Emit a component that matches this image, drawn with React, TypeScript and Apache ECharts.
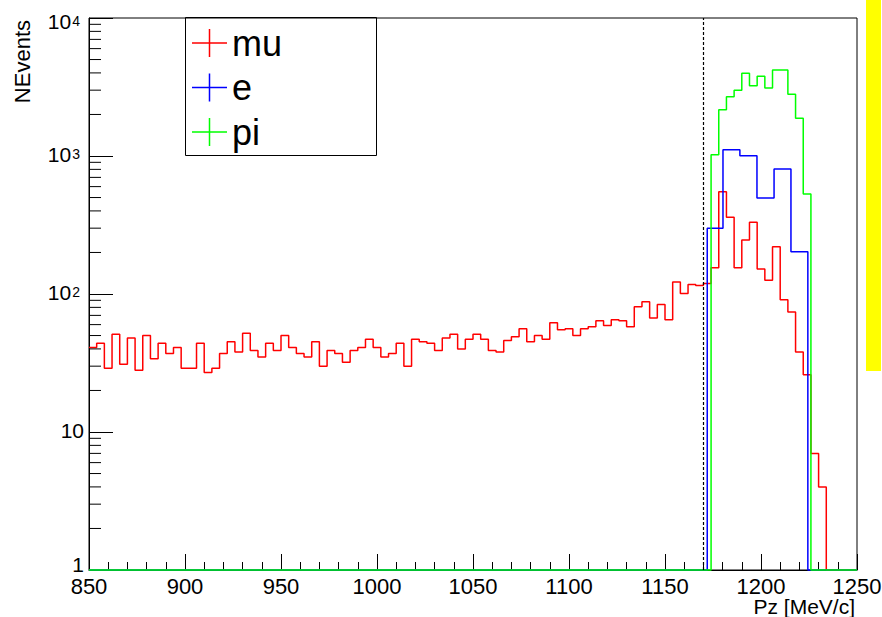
import React, { useEffect, useRef } from 'react';
import * as echarts from 'echarts';

// ---- data ----
const xMin = 850;
const xMax = 1250;
const binWidth = 4; // MeV, mu and pi histograms
const cutValue = 1170; // dashed vertical line

// mu: 100 bins of 4 MeV from 850 to 1250
const muCounts = [
  41, 44, 29, 51, 31, 48, 28, 50, 34, 44,
  37, 41, 29, 29, 44, 27, 29, 37, 45, 38,
  52, 39, 35, 44, 39, 50, 41, 37, 35, 45,
  30, 39, 37, 32, 39, 41, 47, 41, 35, 37,
  44, 30, 47, 45, 44, 39, 48, 51, 40, 47,
  51, 47, 39, 38, 46, 49, 56, 45, 50, 47,
  62, 55, 56, 50, 56, 58, 64, 59, 65, 64,
  58, 81, 88, 67, 84, 65, 122, 101, 117, 115,
  119, 155, 551, 360, 155, 246, 331, 152, 126, 220,
  91, 74, 38, 26, 7, 4, 0, 0, 0, 0,
];

// pi: same binning, non-empty bins start at bin 81 (1174 MeV)
const piFirstBin = 81;
const piCounts = [1022, 2166, 2690, 2993, 3975, 3231, 3781, 3111, 4200, 4200, 2800, 1876, 531];

// e: coarser bins
const eEdges = [850, 1172, 1180.2, 1189, 1197.9, 1206.8, 1215.6, 1224.4, 1250];
const eCounts = [0, 299, 1111, 1005, 496, 805, 202, 0];

const xTickInterval = 50;
const yMinorTicks = [
  2, 3, 4, 5, 6, 7, 8, 9,
  20, 30, 40, 50, 60, 70, 80, 90,
  200, 300, 400, 500, 600, 700, 800, 900,
  2000, 3000, 4000, 5000, 6000, 7000, 8000, 9000,
];

const seriesNames = ['mu', 'e', 'pi'];
const seriesColors = ['#ff0000', '#0000ff', '#00ff00'];

const FONT = '"Liberation Sans", Arial, Helvetica, sans-serif';

// ---- helpers ----
const yFloor = 1; // empty bins drawn on the bottom of the log axis

function histPoints(edges: number[], counts: number[]) {
  const pts: number[][] = counts.map((c, i) => [edges[i], Math.max(c, yFloor)]);
  pts.push([edges[edges.length - 1], Math.max(counts[counts.length - 1], yFloor)]);
  return pts;
}

function uniformEdges(n: number) {
  const e: number[] = [];
  for (let i = 0; i <= n; i++) e.push(xMin + i * binWidth);
  return e;
}

export default function App() {
  const ref = useRef<HTMLDivElement>(null);

  useEffect(() => {
    const chart = echarts.init(ref.current!, null, { renderer: 'svg' });

    const nBins = muCounts.length;
    const edges = uniformEdges(nBins);
    const piFull: number[] = new Array(nBins).fill(0);
    piCounts.forEach((c, i) => (piFull[piFirstBin + i] = c));

    const muData = histPoints(edges, muCounts);
    const piData = histPoints(edges, piFull);
    const eData = histPoints(eEdges, eCounts);

    const mkLine = (name: string, color: string, data: number[][], z: number, extra: any = {}) => ({
      name,
      type: 'line',
      step: 'end',
      data,
      symbol: 'none',
      showSymbol: false,
      clip: false,
      silent: true,
      z,
      lineStyle: { color, width: 1.5 },
      itemStyle: { color },
      ...extra,
    });

    const option: any = {
      animation: false,
      backgroundColor: '#ffffff',
      grid: {
        left: 89,
        top: 18,
        width: 768,
        height: 552,
        show: true,
        borderColor: '#000',
        borderWidth: 1,
        backgroundColor: 'transparent',
        outerBoundsMode: 'none',
        containLabel: false,
      },
      legend: {
        data: seriesNames,
        orient: 'vertical',
        left: 185,
        top: 18,
        padding: [5, 0, 0, 7],
        itemWidth: 35,
        itemHeight: 28,
        itemGap: 4.5,
        selectedMode: false,
        icon: 'path://M0 13.25H35V14.75H0Z M16.75 0H18.25V28H16.75Z',
        itemStyle: { borderWidth: 0 },
        textStyle: { fontSize: 36, fontFamily: FONT, color: '#000', lineHeight: 40 },
      },
      xAxis: {
        type: 'value',
        min: xMin,
        max: xMax,
        interval: xTickInterval,
        axisLine: { show: true, onZero: false, lineStyle: { color: '#000', width: 1 } },
        axisTick: { show: true, inside: true, length: 16, lineStyle: { color: '#000', width: 1 } },
        minorTick: { show: true, splitNumber: 5, length: 8, lineStyle: { color: '#000', width: 1 } },
        splitLine: { show: false },
        minorSplitLine: { show: false },
        axisLabel: {
          fontSize: 22,
          lineHeight: 20,
          fontFamily: FONT,
          color: '#000',
          margin: 6,
          showMinLabel: true,
          showMaxLabel: true,
          hideOverlap: false,
          formatter: (v: number) => String(v),
        },
        name: 'Pz [MeV/c]',
        nameLocation: 'end',
        nameGap: 0,
        nameMoveOverlap: false,
        nameTextStyle: {
          fontSize: 21,
          lineHeight: 21,
          fontFamily: FONT,
          color: '#000',
          align: 'right',
          verticalAlign: 'top',
          padding: [26, 2, 0, 0],
        },
      },
      yAxis: {
        type: 'log',
        logBase: 10,
        min: 1,
        max: 10000,
        axisLine: { show: true, onZero: false, lineStyle: { color: '#000', width: 1 } },
        axisTick: { show: true, inside: true, length: 24, lineStyle: { color: '#000', width: 1 } },
        splitLine: { show: false },
        axisLabel: {
          margin: 5,
          showMinLabel: true,
          showMaxLabel: true,
          hideOverlap: false,
          formatter: (v: number) => {
            const e = Math.round(Math.log10(v));
            if (e === 0) return '{b1|1}';
            if (e === 1) return '{b|10}';
            if (e === 4) return '{gap| }\n{b|10}{s|' + e + '}';
            return '{b|10}{s|' + e + '}';
          },
          rich: {
            b: { fontSize: 21, fontFamily: FONT, color: '#000', lineHeight: 18, verticalAlign: 'bottom' },
            b1: { fontSize: 21, fontFamily: FONT, color: '#000', lineHeight: 14, padding: [0, 0, 12, 0] },
            s: { fontSize: 14, fontFamily: FONT, color: '#000', lineHeight: 8, verticalAlign: 'top', padding: [0, 4, 0, 1] },
            gap: { fontSize: 6, lineHeight: 10 },
          },
        },
        name: 'NEvents',
        nameLocation: 'end',
        nameGap: -2,
        nameRotate: 90,
        nameMoveOverlap: false,
        nameTextStyle: {
          fontSize: 22,
          fontFamily: FONT,
          color: '#000',
          align: 'right',
          verticalAlign: 'bottom',
          padding: [0, 0, 56, 0],
        },
      },
      series: [
        mkLine('mu', seriesColors[0], muData, 2, {
          markLine: {
            silent: true,
            symbol: ['none', 'none'],
            label: { show: false },
            lineStyle: { color: '#000', type: [3, 2], width: 1.2 },
            data: [{ xAxis: cutValue }],
          },
        }),
        mkLine('e', seriesColors[1], eData, 3),
        mkLine('pi', seriesColors[2], piData, 4),
        {
          type: 'custom',
          silent: true,
          clip: false,
          z: 5,
          encode: { x: 0, y: 1 },
          data: yMinorTicks.map((v) => [xMin, v]),
          renderItem: (_p: any, api: any) => {
            const p = api.coord([api.value(0), api.value(1)]);
            return {
              type: 'line',
              shape: { x1: p[0], y1: p[1], x2: p[0] + 12, y2: p[1] },
              style: { stroke: '#000', lineWidth: 1 },
            };
          },
        },
      ],
      graphic: [
        {
          type: 'rect',
          silent: true,
          shape: { x: 866, y: 0, width: 15, height: 371 },
          style: { fill: '#ffff00' },
        },
        {
          type: 'rect',
          silent: true,
          z: 10,
          shape: { x: 185.5, y: 17.5, width: 191, height: 138 },
          style: { fill: 'none', stroke: '#000', lineWidth: 1 },
        },
      ],
    };

    chart.setOption(option);
    return () => chart.dispose();
  }, []);

  return (
    <div
      ref={ref}
      style={{ position: 'fixed', left: 0, top: 0, width: 882, height: 617, background: '#fff' }}
    />
  );
}
